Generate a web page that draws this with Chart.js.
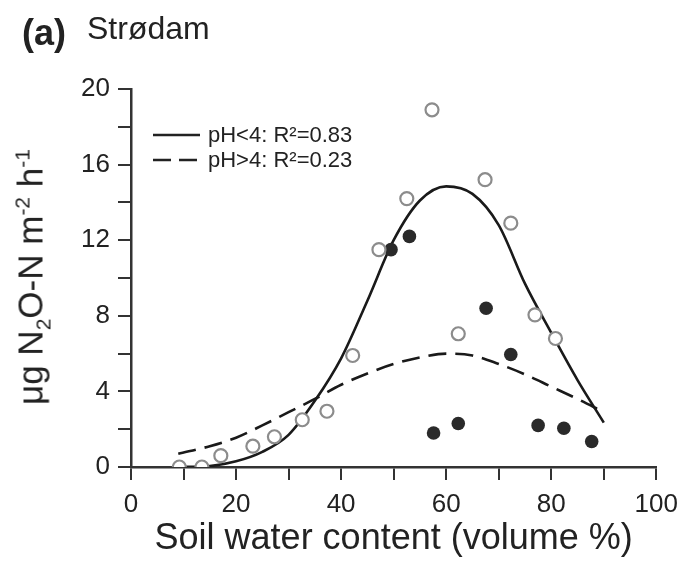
<!DOCTYPE html>
<html>
<head>
<meta charset="utf-8">
<script src="https://cdn.jsdelivr.net/npm/chart.js@4.4.1/dist/chart.umd.min.js"></script>
<style>
  html, body { margin: 0; padding: 0; background: #fff; }
  #wrap { position: relative; width: 687px; height: 569px; font-family: "Liberation Sans", Arial, sans-serif; color: #222; }
  #chart { position: absolute; left: 0; top: 0; }
  .lbl { position: absolute; white-space: nowrap; line-height: 1; }
  #panelA { left: 22px; top: 15px; font-size: 36px; font-weight: bold; }
  #panelName { left: 87px; top: 12px; font-size: 32px; }
  #ytitle {
    position: absolute; left: 33px; top: 277px; white-space: nowrap;
    font-size: 35px; transform: translate(-50%, -50%) rotate(-90deg);
  }
  #ytitle sub, #ytitle sup { font-size: 21px; }
</style>
</head>
<body>
<div id="wrap">
  <canvas id="chart" width="687" height="569"></canvas>
  <div class="lbl" id="panelA">(a)</div>
  <div class="lbl" id="panelName">Strødam</div>
  <div id="ytitle">μg N<sub>2</sub>O-N m<sup>-2</sup> h<sup>-1</sup></div>
</div>
<script>
// --- DATA ---
const openX   = [9.2, 13.5, 17.1, 23.2, 27.3, 32.6, 37.3, 42.2, 47.2, 52.5, 57.3, 62.3, 67.4, 72.3, 76.9, 80.8];
const openY   = [0, 0, 0.6, 1.1, 1.6, 2.5, 2.95, 5.9, 11.5, 14.2, 18.9, 7.05, 15.2, 12.9, 8.05, 6.8];
const filledX = [49.5, 53.0, 57.6, 62.3, 67.6, 72.3, 77.5, 82.4, 87.7];
const filledY = [11.5, 12.2, 1.8, 2.3, 8.4, 5.95, 2.2, 2.05, 1.35];

const fitX    = [9, 15, 20, 25, 30, 35, 40, 45, 50, 55, 60, 65, 70, 75, 80, 85, 90];
const solidY  = [0, 0.05, 0.3, 0.8, 1.7, 3.5, 5.75, 8.8, 12.0, 14.1, 14.85, 14.45, 12.8, 9.7, 7.1, 4.6, 2.35];
const dashedY = [0.7, 1.1, 1.55, 2.2, 2.9, 3.6, 4.35, 4.95, 5.45, 5.8, 6.0, 5.9, 5.45, 4.9, 4.25, 3.6, 2.9];

const legendLabels = ["pH<4: R²=0.83", "pH>4: R²=0.23"];
const xTitle = "Soil water content (volume %)";

const ink = "#222";
const pairs = (xs, ys) => xs.map((x, i) => ({ x: x, y: ys[i] }));

// legend drawn inside the plot, top-left
const legendInside = {
    id: "legendInside",
    afterDraw(chart) {
        const ctx = chart.ctx;
        const a = chart.chartArea;
        const x0 = a.left + 22, x1 = a.left + 69;
        const rows = [a.top + 46, a.top + 71];
        ctx.save();
        ctx.strokeStyle = ink;
        ctx.lineWidth = 2.5;
        ctx.font = "22px 'Liberation Sans', Arial, sans-serif";
        ctx.fillStyle = ink;
        ctx.textBaseline = "middle";
        rows.forEach((y, i) => {
            ctx.setLineDash(i === 0 ? [] : [18, 8]);
            ctx.beginPath();
            ctx.moveTo(x0, y);
            ctx.lineTo(x1, y);
            ctx.stroke();
            ctx.fillText(legendLabels[i], x1 + 8, y + 1);
        });
        ctx.restore();
    }
};

const axisGrid = { display: true, drawOnChartArea: false, drawTicks: true, tickLength: 13, color: "#333", lineWidth: 2 };
const axisBorder = { display: true, color: "#333", width: 2.5 };
const tickFont = { family: "'Liberation Sans', Arial, sans-serif", size: 26 };

new Chart(document.getElementById("chart"), {
    type: "scatter",
    data: {
        datasets: [
            { data: pairs(openX, openY), pointRadius: 6.5, pointBorderWidth: 2.2,
              pointBorderColor: "#8c8c8c", pointBackgroundColor: "#fff", order: 1 },
            { data: pairs(filledX, filledY), pointRadius: 6.8, pointBorderWidth: 0,
              pointBackgroundColor: "#2a2a2a", order: 1 },
            { type: "line", data: pairs(fitX, solidY), showLine: true, pointRadius: 0,
              borderColor: "#1a1a1a", borderWidth: 2.6, cubicInterpolationMode: "monotone", order: 2 },
            { type: "line", data: pairs(fitX, dashedY), showLine: true, pointRadius: 0,
              borderColor: "#1a1a1a", borderWidth: 2.6, borderDash: [18, 9],
              cubicInterpolationMode: "monotone", order: 2 }
        ]
    },
    options: {
        responsive: false,
        animation: false,
        layout: { padding: { left: 0, right: 24, top: 89, bottom: 0 } },
        plugins: { legend: { display: false }, tooltip: { enabled: false } },
        scales: {
            x: {
                type: "linear", min: 0, max: 100,
                grid: axisGrid, border: axisBorder,
                ticks: { stepSize: 10, color: ink, font: tickFont, padding: 9, maxRotation: 0,
                         callback: v => (v % 20 === 0 ? v : "") },
                title: { display: true, text: xTitle, color: ink,
                         font: { family: "'Liberation Sans', Arial, sans-serif", size: 36 },
                         padding: { top: 0, bottom: 8 } },
                afterFit: s => { s.height = 102; }
            },
            y: {
                type: "linear", min: 0, max: 20,
                grid: axisGrid, border: axisBorder,
                ticks: { stepSize: 2, color: ink, font: tickFont, padding: 8,
                         callback: v => (v % 4 === 0 ? v : "") },
                afterFit: s => { s.width = 131; }
            }
        }
    },
    plugins: [legendInside]
});
</script>
</body>
</html>
